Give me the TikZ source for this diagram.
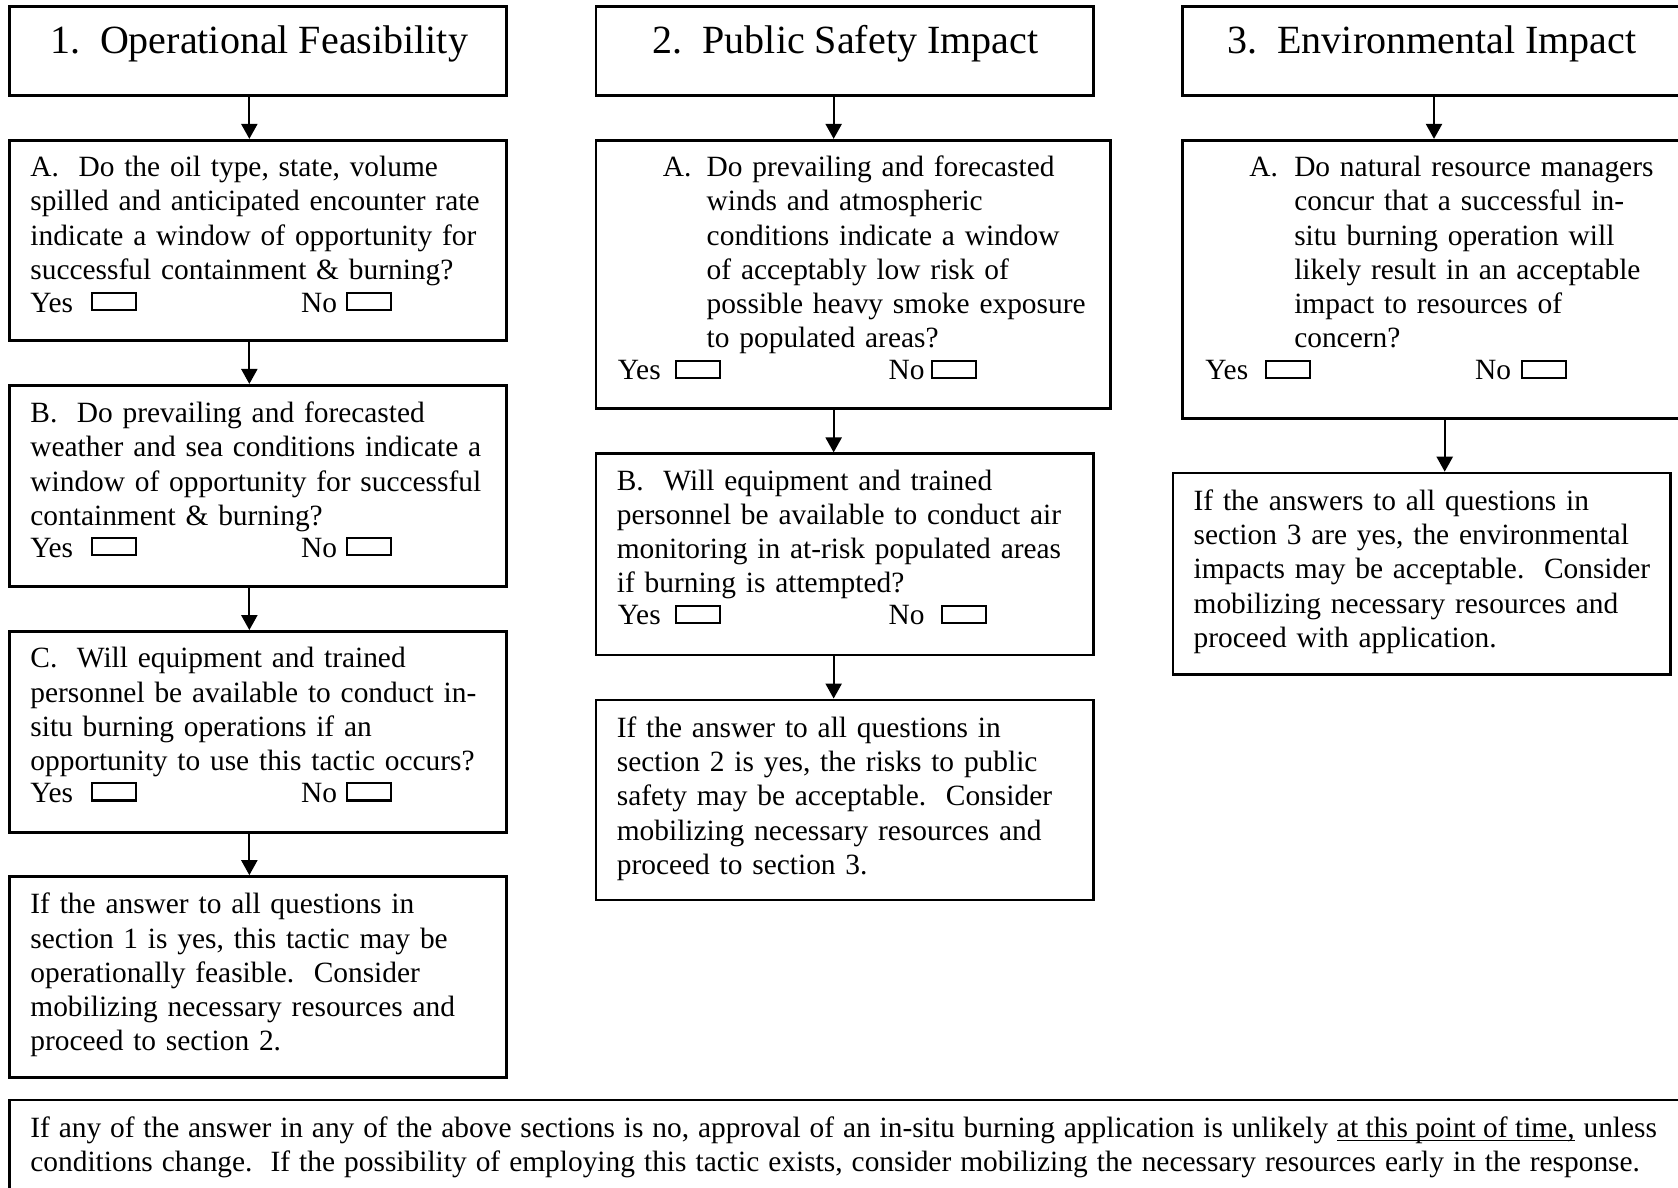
\documentclass[tikz,border=0pt]{standalone}
\usepackage{fontspec}
\setmainfont{Liberation Serif}
\usetikzlibrary{arrows.meta,fit}
\newcommand\myul[1]{\setbox0\hbox{#1}\rlap{\rule[-1.8pt]{\wd0}{0.7pt}}\box0\relax}
\newcommand\fitline[2]{\makebox[#1][s]{\spaceskip=\fontdimen2\font plus 2pt minus 1.5pt\relax #2}}
\newcommand\ynrow[6]{%
  \node[lbl] (#1y) at (#2,#6) {Yes};
  \node[chk] (#1yb) at (#3,#6-1) {};
  \node[lbl] (#1n) at (#4,#6) {No};
  \node[chk] (#1nb) at (#5,#6-1) {};}
\tikzset{
  box/.style={draw, line width=1.25pt, inner sep=0pt},
  txt/.style={anchor=base west, inner sep=0pt, text width=800pt,
    font=\fontsize{13.74}{16}\selectfont\frenchspacing},
  lbl/.style={anchor=base west, inner sep=0pt, font=\fontsize{13.74}{16}\selectfont\frenchspacing},
  ttl/.style={anchor=base, inner sep=0pt, font=\fontsize{18.7}{22}\selectfont\frenchspacing},
  chk/.style={draw, line width=1pt, anchor=south west, minimum width=20.5pt,
    minimum height=8pt, inner sep=0pt},
  arr/.style={line width=1pt, -{Triangle[width=7.5pt,length=7pt]}},
}
\begin{document}
\begin{tikzpicture}[x=0.5pt,y=-0.5pt]
\path[use as bounding box, fill=white] (0,0) rectangle (1568,1110);
% column 1 boxes
\node[box, fit={(9,6) (473,89)}] (t1) {};
\node[box, fit={(9,131) (473,318)}] (a1) {};
\node[box, fit={(9,360) (473,548)}] (b1) {};
\node[box, fit={(9,590) (473,778)}] (c1) {};
\node[box, fit={(9,819) (473,1007)}] (r1) {};
% column 2 boxes
\node[box, fit={(557,6) (1022,89)}] (t2) {};
\node[box, fit={(557,131) (1038,382)}] (a2) {};
\node[box, fit={(557,424) (1022,612)}] (b2) {};
\node[box, fit={(557,654) (1022,841)}] (r2) {};
% column 3 boxes
\node[box, fit={(1105,6) (1585,89)}] (t3) {};
\node[box, fit={(1105,131) (1595,391)}] (a3) {};
\node[box, fit={(1096,442) (1561,630)}] (r3) {};
% bottom box
\node[box, fit={(9,1028) (1595,1130)}] (bt) {};
% arrow columns
\coordinate (k1) at (233,0);
\coordinate (k2) at (779,0);
\coordinate (k3) at (1340,0);
\coordinate (k4) at (1350,0);
\draw[arr] (t1.south -| k1) -- (a1.north -| k1);
\draw[arr] (a1.south -| k1) -- (b1.north -| k1);
\draw[arr] (b1.south -| k1) -- (c1.north -| k1);
\draw[arr] (c1.south -| k1) -- (r1.north -| k1);
\draw[arr] (t2.south -| k2) -- (a2.north -| k2);
\draw[arr] (a2.south -| k2) -- (b2.north -| k2);
\draw[arr] (b2.south -| k2) -- (r2.north -| k2);
\draw[arr] (t3.south -| k3) -- (a3.north -| k3);
\draw[arr] (a3.south -| k4) -- (r3.north -| k4);
% titles
\node[ttl] (t1t) at (242,50) {1.\ \ Operational Feasibility};
\node[ttl] (t2t) at (790,50) {2.\ \ Public Safety Impact};
\node[ttl] (t3t) at (1338,50) {3.\ \ Environmental Impact};
% column 1 texts
\node[txt] (a1t) at (28,165) {A.\ \ Do the oil type, state, volume\\
spilled and anticipated encounter rate\\
indicate a window of opportunity for\\
successful containment \& burning?};
\ynrow{a1}{28}{85}{281}{323}{292}
\node[txt] (b1t) at (28,395) {B.\ \ Do prevailing and forecasted\\
weather and sea conditions indicate a\\
window of opportunity for successful\\
containment \& burning?};
\ynrow{b1}{28}{85}{281}{323}{521}
\node[txt] (c1t) at (28,624) {C.\ \ Will equipment and trained\\
personnel be available to conduct in-\\
situ burning operations if an\\
opportunity to use this tactic occurs?};
\ynrow{c1}{28}{85}{281}{323}{750}
\node[txt] (r1t) at (28,854) {If the answer to all questions in\\
section 1 is yes, this tactic may be\\
operationally feasible.\ \ Consider\\
mobilizing necessary resources and\\
proceed to section 2.};
% column 2 texts
\node[lbl] (a2l) at (619,165) {A.};
\node[txt] (a2t) at (660,165) {Do prevailing and forecasted\\
winds and atmospheric\\
conditions indicate a window\\
of acceptably low risk of\\
possible heavy smoke exposure\\
to populated areas?};
\ynrow{a2}{577}{631}{830}{870}{355}
\node[txt] (b2t) at (576,458) {B.\ \ Will equipment and trained\\
personnel be available to conduct air\\
monitoring in at-risk populated areas\\
if burning is attempted?};
\ynrow{b2}{577}{631}{830}{879}{584}
\node[txt] (r2t) at (576,689) {If the answer to all questions in\\
section 2 is yes, the risks to public\\
safety may be acceptable.\ \ Consider\\
mobilizing necessary resources and\\
proceed to section 3.};
% column 3 texts
\node[lbl] (a3l) at (1167,165) {A.};
\node[txt] (a3t) at (1209,165) {Do natural resource managers\\
concur that a successful in-\\
situ burning operation will\\
likely result in an acceptable\\
impact to resources of\\
concern?};
\ynrow{a3}{1126}{1182}{1378}{1421}{355}
\node[txt] (r3t) at (1115,477) {If the answers to all questions in\\
section 3 are yes, the environmental\\
impacts may be acceptable.\ \ Consider\\
mobilizing necessary resources and\\
proceed with application.};
% bottom text
\node[txt] (btt) at (28,1063) {\fitline{760pt}{If any of the answer in any of the above sections is no, approval of an in-situ burning application is unlikely \myul{at this point of time,} unless}\\
\fitline{752pt}{conditions change.\ \ If the possibility of employing this tactic exists, consider mobilizing the necessary resources early in the response.}};
\end{tikzpicture}
\end{document}
